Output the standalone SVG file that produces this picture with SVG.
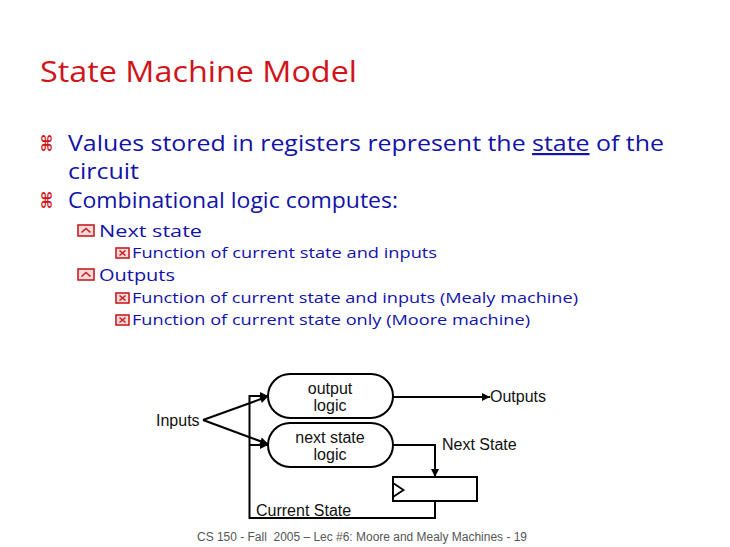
<svg xmlns="http://www.w3.org/2000/svg" width="730" height="547" viewBox="0 0 730 547">
<defs>
<style>
.title{font-family:"Open Sans","DejaVu Sans",sans-serif;font-size:30px;fill:#D0141A}
.l1{font-family:"Open Sans","DejaVu Sans",sans-serif;font-size:22px;fill:#1212A8}
.l2{font-family:"Open Sans","DejaVu Sans",sans-serif;font-size:17px;fill:#1212A8}
.l3{font-family:"Open Sans","DejaVu Sans",sans-serif;font-size:14.5px;fill:#1212A8}
.cmd{font-family:"DejaVu Sans",sans-serif;font-size:21px;font-weight:bold;fill:#D0141A}
.bx{fill:#F6DADA;stroke:#C81E24;stroke-width:1.6}
.bm{fill:none;stroke:#C81E24;stroke-width:1.6}
.dg{font-family:"Liberation Sans",Arial,sans-serif;font-size:16px;fill:#111}
.node{fill:#fff;stroke:#000;stroke-width:2}
.wire{fill:none;stroke:#000;stroke-width:2}
.foot{font-family:"Liberation Sans",Arial,sans-serif;font-size:12px;fill:#555;white-space:pre}
</style>
<marker id="ah" viewBox="0 0 10 10" refX="10" refY="5" markerWidth="9" markerHeight="8" markerUnits="userSpaceOnUse" orient="auto">
<path d="M0,0 L10,5 L0,10 z" fill="#000"/>
</marker>
<g id="b2">
<rect class="bx" x="0" y="0" width="16" height="11"/>
<polyline class="bm" points="3.5,7.5 8,3.5 12.5,7.5"/>
</g>
<g id="b3">
<rect class="bx" x="0" y="0" width="13" height="10"/>
<path class="bm" d="M3.5,2.5 L9.5,7.5 M9.5,2.5 L3.5,7.5"/>
</g>
</defs>
<rect width="730" height="547" fill="#fff"/>

<g id="title">
<text class="title" x="40" y="82" textLength="317" lengthAdjust="spacingAndGlyphs">State Machine Model</text>
</g>

<g id="bullets">
<text class="cmd" x="40" y="151" textLength="13" lengthAdjust="spacingAndGlyphs">⌘</text>
<text class="l1" x="68" y="151" textLength="596" lengthAdjust="spacingAndGlyphs">Values stored in registers represent the <tspan style="text-decoration:underline">state</tspan> of the</text>
<text class="l1" x="68" y="179" textLength="71" lengthAdjust="spacingAndGlyphs">circuit</text>
<text class="cmd" x="40" y="208" textLength="13" lengthAdjust="spacingAndGlyphs">⌘</text>
<text class="l1" x="68" y="208" textLength="330" lengthAdjust="spacingAndGlyphs">Combinational logic computes:</text>

<use href="#b2" x="78" y="225"/>
<text class="l2" x="99" y="237" textLength="103" lengthAdjust="spacingAndGlyphs">Next state</text>
<use href="#b3" x="116" y="248"/>
<text class="l3" x="132" y="258" textLength="305" lengthAdjust="spacingAndGlyphs">Function of current state and inputs</text>

<use href="#b2" x="78" y="269"/>
<text class="l2" x="99" y="281" textLength="76" lengthAdjust="spacingAndGlyphs">Outputs</text>
<use href="#b3" x="116" y="293"/>
<text class="l3" x="132" y="303" textLength="446" lengthAdjust="spacingAndGlyphs">Function of current state and inputs (Mealy machine)</text>
<use href="#b3" x="116" y="315"/>
<text class="l3" x="132" y="325" textLength="398" lengthAdjust="spacingAndGlyphs">Function of current state only (Moore machine)</text>
</g>

<g id="connectors">
<line class="wire" x1="203" y1="420" x2="268" y2="396.5" stroke-width="2.5" marker-end="url(#ah)"/>
<line class="wire" x1="203" y1="420" x2="268" y2="444" stroke-width="2.5" marker-end="url(#ah)"/>
<path class="wire" d="M435,501 V518 H249.5 V396 H268" marker-end="url(#ah)"/>
<path class="wire" d="M249.5,445 H268" marker-end="url(#ah)"/>
<path class="wire" d="M393,397 H490" marker-end="url(#ah)"/>
<path class="wire" d="M393,445 H435 V477" marker-end="url(#ah)"/>
</g>

<g id="output-logic">
<rect class="node" x="268" y="374" width="125" height="44" rx="22" ry="22"/>
<text class="dg" x="330" y="394" text-anchor="middle">output</text>
<text class="dg" x="330" y="411" text-anchor="middle">logic</text>
</g>

<g id="next-state-logic">
<rect class="node" x="268" y="423" width="125" height="44" rx="22" ry="22"/>
<text class="dg" x="330" y="443" text-anchor="middle">next state</text>
<text class="dg" x="330" y="460" text-anchor="middle">logic</text>
</g>

<g id="register">
<rect class="node" x="393" y="477" width="84" height="24"/>
<polyline fill="none" stroke="#000" stroke-width="1.8" points="393,483 403.5,490 393,497"/>
</g>

<g id="inputs">
<text class="dg" x="156" y="426">Inputs</text>
</g>
<g id="outputs">
<text class="dg" x="490" y="402">Outputs</text>
</g>
<g id="next-state-label">
<text class="dg" x="442" y="450">Next State</text>
</g>
<g id="current-state-label">
<text class="dg" x="256" y="516">Current State</text>
</g>

<g id="footer">
<text class="foot" x="197" y="541" textLength="330" lengthAdjust="spacingAndGlyphs" xml:space="preserve">CS 150 - Fall  2005 – Lec #6: Moore and Mealy Machines - 19</text>
</g>
</svg>
